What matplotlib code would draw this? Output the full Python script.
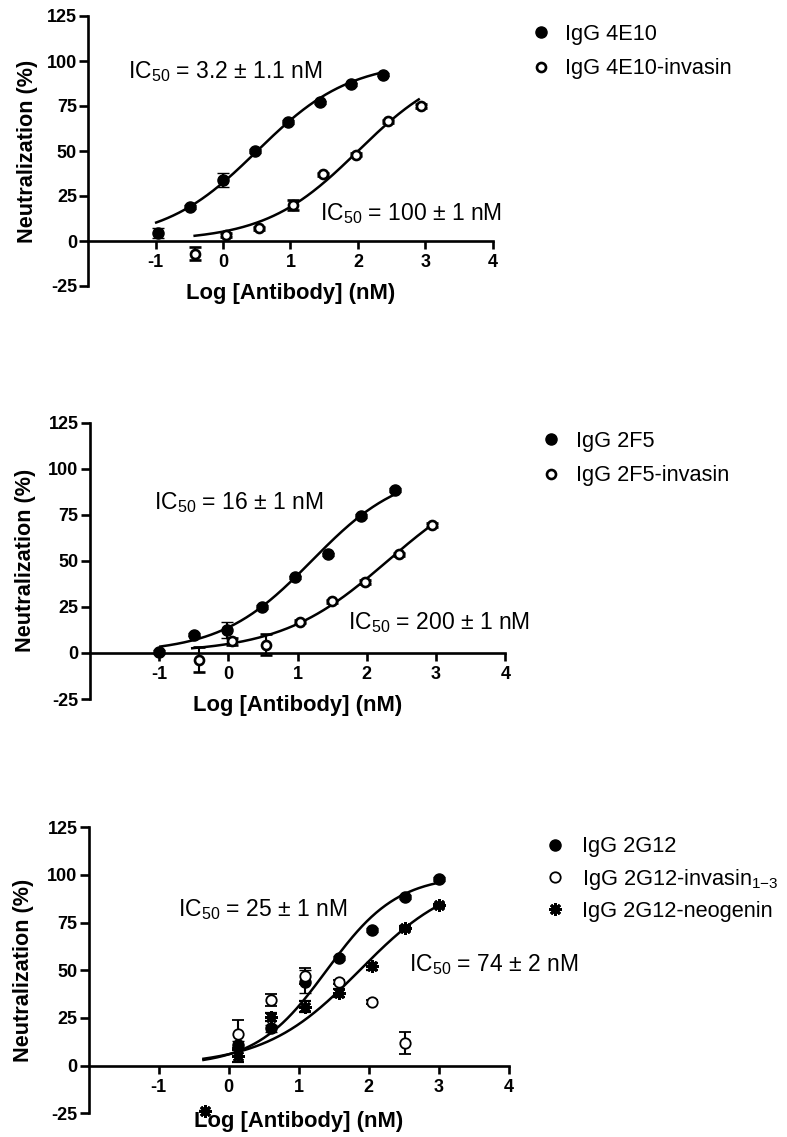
import numpy as np
import matplotlib
matplotlib.use('Agg')
import matplotlib.pyplot as plt
from matplotlib.lines import Line2D

plt.rcParams['font.family'] = ['Liberation Sans', 'DejaVu Sans']
plt.rcParams['mathtext.fontset'] = 'custom'
plt.rcParams['mathtext.rm'] = 'Liberation Sans'
plt.rcParams['mathtext.it'] = 'Liberation Sans:italic'
plt.rcParams['mathtext.bf'] = 'Liberation Sans:bold'
plt.rcParams['axes.unicode_minus'] = False

#%% data (log10 nM, % neutralization)

# panel A - 4E10
x_4e10 = [-0.97, -0.49, 0.0, 0.48, 0.96, 1.43, 1.90, 2.37]
y_4e10 = [4.5, 19, 34, 50, 66, 77, 87, 92.5]
e_4e10 = [3, 1, 4, 1, 1, 1, 1, 1]
x_4e10inv = [-0.42, 0.05, 0.54, 1.03, 1.48, 1.97, 2.45, 2.94]
y_4e10inv = [-7, 3.5, 7, 20, 37, 48, 66.5, 75]
e_4e10inv = [3.7, 1, 1, 3, 1, 1, 1, 1]

# panel B - 2F5
x_2f5 = [-1.0, -0.49, -0.02, 0.49, 0.96, 1.44, 1.91, 2.40]
y_2f5 = [0.5, 10, 12.5, 25, 41, 53.5, 74.5, 88.5]
e_2f5 = [1, 1, 4.5, 1, 1, 1, 1, 1]
x_2f5inv = [-0.42, 0.06, 0.55, 1.03, 1.50, 1.98, 2.46, 2.94]
y_2f5inv = [-3.6, 6.3, 4.5, 17, 28, 38.5, 53.5, 69.5]
e_2f5inv = [6.8, 2, 5.7, 1, 1, 1, 1, 1]

# panel C - 2G12
x_2g12 = [0.13, 0.61, 1.09, 1.57, 2.04, 2.52, 3.0]
y_2g12 = [11, 19.5, 44, 56.5, 71, 88.5, 98]
e_2g12 = [2, 2, 6, 1, 1, 1, 1]
x_2g12inv = [0.13, 0.61, 1.09, 1.57, 2.04, 2.52]
y_2g12inv = [16.5, 34.5, 47, 44, 33.5, 11.7]
e_2g12inv = [7.5, 3, 4, 1, 1, 5.8]
x_2g12neo = [-0.34, 0.13, 0.61, 1.09, 1.57, 2.04, 2.52, 3.0]
y_2g12neo = [-24, 5, 25.5, 31, 38, 52, 72, 84]
e_2g12neo = [0, 3, 2, 3, 2, 2, 1, 1]

# sigmoid fits: (logIC50, hill, bottom, top, x start, x end)
fit_4e10 = (0.505, 0.63, 0, 100, -0.99, 2.37)
fit_4e10inv = (2.0, 0.63, 0, 100, -0.42, 2.90)
fit_2f5 = (1.204, 0.66, 0, 100, -0.98, 2.41)
fit_2f5inv = (2.301, 0.56, 0, 100, -0.52, 2.94)
fit_2g12 = (1.398, 0.86, 0, 100, -0.36, 3.0)
fit_2g12neo = (1.869, 0.64, 0, 100, -0.36, 3.0)

ic50_labels = {
    'A': ['IC$_{50}$ = 3.2 ± 1.1 nM', 'IC$_{50}$ = 100 ± 1 nM'],
    'B': ['IC$_{50}$ = 16 ± 1 nM', 'IC$_{50}$ = 200 ± 1 nM'],
    'C': ['IC$_{50}$ = 25 ± 1 nM', 'IC$_{50}$ = 74 ± 2 nM'],
}

xticks = [-1, 0, 1, 2, 3, 4]
yticks = [-25, 0, 25, 50, 75, 100, 125]

W, H = 787, 1137
fig = plt.figure(figsize=(W / 100, H / 100), dpi=100)


def px_axes(l, r, t, b):
    return fig.add_axes([l / W, 1 - b / H, (r - l) / W, (b - t) / H])


def style(ax, ylab_x, xlab_y):
    ax.set_xlim(-2, 4)
    ax.set_ylim(-25, 125)
    ax.spines['top'].set_visible(False)
    ax.spines['right'].set_visible(False)
    ax.spines['bottom'].set_position(('data', 0))
    for s in ('left', 'bottom'):
        ax.spines[s].set_linewidth(1.9)
    ax.set_xticks(xticks)
    ax.set_yticks(yticks)
    ax.tick_params(axis='x', length=6, width=1.9, pad=3.5, labelsize=13)
    ax.tick_params(axis='y', length=6.5, width=1.9, pad=1.5, labelsize=13)
    plt.setp(ax.get_xticklabels() + ax.get_yticklabels(), fontweight='bold')
    ax.set_xlabel('Log [Antibody] (nM)', fontsize=15.8, fontweight='bold', va='center')
    ax.xaxis.set_label_coords(0.5, xlab_y)
    ax.set_ylabel('Neutralization (%)', fontsize=15.6, fontweight='bold',
                  va='center', ha='center', rotation_mode='default')
    ax.yaxis.set_label_coords(ylab_x, 0.5)


def curve(ax, fit):
    logic, h, bot, top, x0, x1 = fit
    xx = np.linspace(x0, x1, 200)
    yy = bot + (top - bot) / (1 + 10 ** ((logic - xx) * h))
    ax.plot(xx, yy, color='black', lw=1.8, zorder=2)


def points(ax, x, y, e, kind):
    if kind == 'filled':
        kw = dict(fmt='o', ms=8, mfc='black', mec='black', mew=1)
    elif kind == 'open':
        kw = dict(fmt='o', ms=6.5, mfc='white', mec='black', mew=1.9)
    elif kind == 'open_thin':
        kw = dict(fmt='o', ms=7.5, mfc='white', mec='black', mew=1.3)
    else:
        kw = dict(fmt='none')
    ax.errorbar(x, y, yerr=e, ecolor='black', elinewidth=1.5, capsize=4.5,
                capthick=1.6, zorder=3, clip_on=False, **kw)
    if kind == 'star':
        ax.plot(x, y, ls='none', marker=(8, 2, 0), ms=9, mec='black',
                mew=2, zorder=4, clip_on=False)


def legend(ax, handles, labels, mx, my, htp, spacing):
    ax.legend(handles, labels, loc='center left', frameon=False,
              bbox_to_anchor=((mx - 10.9) / W, 1 - my / H),
              bbox_transform=fig.transFigure, fontsize=15.7,
              handlelength=1.0, handletextpad=htp, borderpad=0,
              borderaxespad=0, labelspacing=spacing)


h_filled = Line2D([], [], ls='none', marker='o', ms=8, mfc='black', mec='black')
h_open = Line2D([], [], ls='none', marker='o', ms=6.5, mfc='white', mec='black', mew=1.9)
h_open_thin = Line2D([], [], ls='none', marker='o', ms=7.5, mfc='white', mec='black', mew=1.3)
h_star = Line2D([], [], ls='none', marker=(8, 2, 0), ms=9, mec='black', mew=2)

ann_size = 16.5

#%% panel A
ax1 = px_axes(88, 493, 16, 286)
style(ax1, -0.149, -0.026)
curve(ax1, fit_4e10)
curve(ax1, fit_4e10inv)
points(ax1, x_4e10, y_4e10, e_4e10, 'filled')
points(ax1, x_4e10inv, y_4e10inv, e_4e10inv, 'open')
ax1.text(-1.41, 93.9, ic50_labels['A'][0], fontsize=ann_size, va='center', ha='left')
ax1.text(1.44, 15, ic50_labels['A'][1], fontsize=ann_size, va='center', ha='left')
legend(ax1, [h_filled, h_open], ['IgG 4E10', 'IgG 4E10-invasin'], 540.7, 51.5, 0.6, 0.62)

#%% panel B
ax2 = px_axes(89.7, 505.4, 422.7, 699)
style(ax2, -0.155, -0.025)
curve(ax2, fit_2f5)
curve(ax2, fit_2f5inv)
points(ax2, x_2f5, y_2f5, e_2f5, 'filled')
points(ax2, x_2f5inv, y_2f5inv, e_2f5inv, 'open')
ax2.text(-1.07, 81.5, ic50_labels['B'][0], fontsize=ann_size, va='center', ha='left')
ax2.text(1.73, 16.3, ic50_labels['B'][1], fontsize=ann_size, va='center', ha='left')
legend(ax2, [h_filled, h_open], ['IgG 2F5', 'IgG 2F5-invasin'], 551, 458.4, 0.66, 0.62)

#%% panel C
ax3 = px_axes(88.5, 509, 827.3, 1113.3)
style(ax3, -0.154, -0.029)
curve(ax3, fit_2g12)
curve(ax3, fit_2g12neo)
points(ax3, x_2g12, y_2g12, e_2g12, 'filled')
points(ax3, x_2g12inv, y_2g12inv, e_2g12inv, 'open_thin')
points(ax3, x_2g12neo, y_2g12neo, e_2g12neo, 'star')
ax3.text(-0.73, 81.6, ic50_labels['C'][0], fontsize=ann_size, va='center', ha='left')
ax3.text(2.57, 53.1, ic50_labels['C'][1], fontsize=ann_size, va='center', ha='left')
legend(ax3, [h_filled, h_open_thin, h_star],
       ['IgG 2G12', 'IgG 2G12-invasin$_{1\\mathrm{-}3}$', 'IgG 2G12-neogenin'],
       555, 879, 0.73, 0.42)

fig.savefig('out.png', dpi=100)
